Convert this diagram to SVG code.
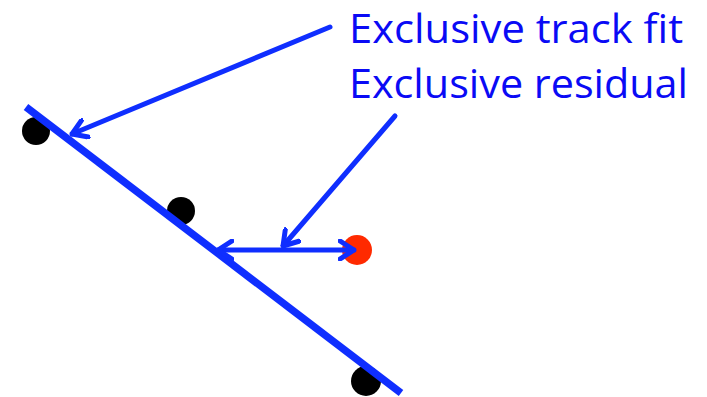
<svg xmlns="http://www.w3.org/2000/svg" width="707" height="397" viewBox="0 0 707 397">
  <style>
    .hit { fill: #000; }
    .conn { stroke: #0F2EFF; stroke-width: 5; fill: none; stroke-linecap: round; }
    .label { font-family: "Open Sans", "Liberation Sans", sans-serif; font-size: 40px; fill: #0A0AF5; }
  </style>
  <defs>
    <marker id="vhead" viewBox="-16 -11 18 22" markerWidth="18" markerHeight="22" refX="0" refY="0" orient="auto" markerUnits="userSpaceOnUse">
      <path d="M-14,-9 L0,0 L-14,9" fill="none" stroke="#0F2EFF" stroke-width="5" stroke-linecap="round" stroke-linejoin="round"/>
    </marker>
    <marker id="vtail" viewBox="-2 -11 18 22" markerWidth="18" markerHeight="22" refX="0" refY="0" orient="auto" markerUnits="userSpaceOnUse">
      <path d="M14,-9 L0,0 L14,9" fill="none" stroke="#0F2EFF" stroke-width="5" stroke-linecap="round" stroke-linejoin="round"/>
    </marker>
  </defs>

  <!-- detector hits -->
  <g id="hit1"><circle class="hit" cx="36" cy="131" r="14"/></g>
  <g id="hit2"><circle class="hit" cx="181" cy="211" r="14"/></g>
  <g id="hit3"><circle class="hit" cx="366" cy="381" r="15"/></g>
  <g id="excluded-hit"><circle cx="357" cy="250" r="15" fill="#FF2A00"/></g>

  <!-- fitted track -->
  <g id="track">
    <line x1="26" y1="107" x2="401" y2="393" stroke="#0F2EFF" stroke-width="7.5"/>
  </g>

  <!-- labels -->
  <g id="label-fit"><text class="label" x="349" y="43" textLength="334" lengthAdjust="spacingAndGlyphs">Exclusive track fit</text></g>
  <g id="label-residual"><text class="label" x="349" y="98" textLength="339" lengthAdjust="spacingAndGlyphs">Exclusive residual</text></g>

  <!-- connectors -->
  <g id="connectors">
    <line class="conn" x1="330" y1="27" x2="72" y2="134" marker-end="url(#vhead)"/>
    <line class="conn" x1="395" y1="116" x2="283" y2="246" marker-end="url(#vhead)"/>
    <line class="conn" x1="218" y1="250" x2="354" y2="250" marker-start="url(#vtail)" marker-end="url(#vhead)"/>
  </g>
</svg>
